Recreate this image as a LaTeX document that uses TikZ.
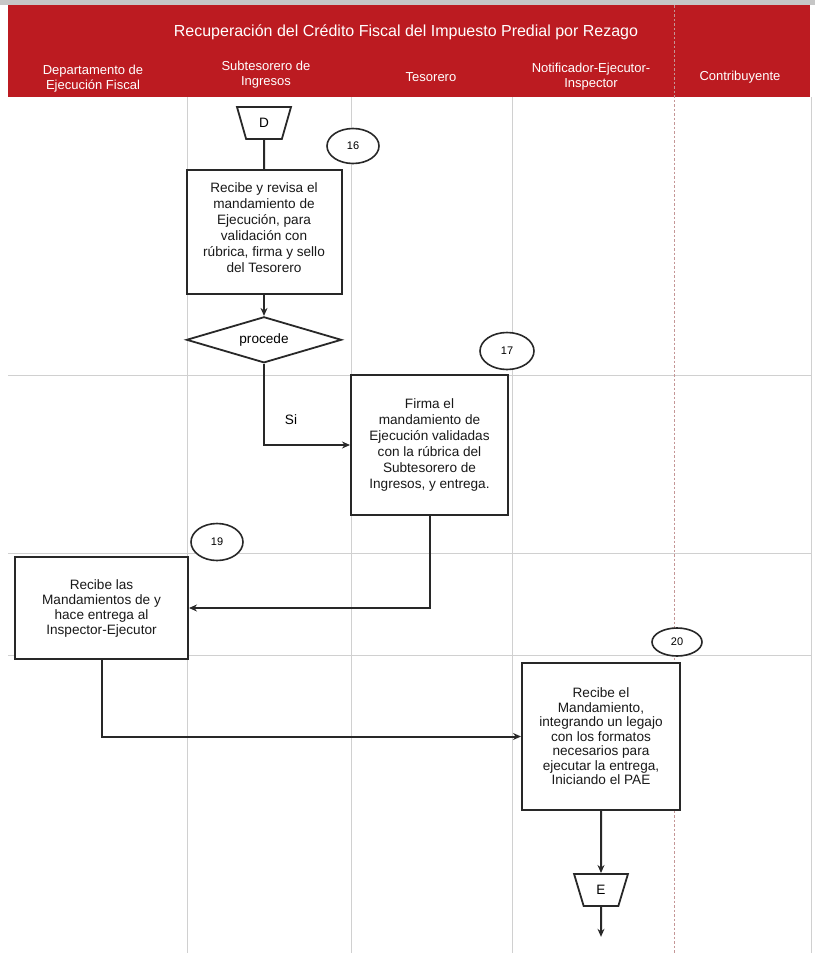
\documentclass[tikz,border=0pt]{standalone}
\usepackage{fontspec}
\setmainfont{Liberation Sans}
\usetikzlibrary{positioning,shapes.geometric,arrows.meta}
\definecolor{encabezado}{RGB}{188,27,33}
\definecolor{rejilla}{RGB}{208,208,208}
\definecolor{divisor}{RGB}{196,150,150}
\definecolor{trazo}{RGB}{40,40,40}
\tikzset{
  proceso/.style={draw=trazo, line width=2pt, fill=white, align=center, inner sep=2pt,
    text=black!90, font=\fontsize{13.6}{16}\selectfont},
  decision/.style={draw=trazo, line width=1.8pt, diamond, aspect=3.4, inner sep=0pt,
    minimum width=155pt, minimum height=46pt, fill=white, font=\fontsize{13.6}{16}\selectfont},
  conector/.style={draw=trazo, line width=1.8pt, trapezium, trapezium stretches=true,
    shape border rotate=180, trapezium left angle=75, trapezium right angle=75,
    minimum width=54pt, minimum height=32pt, inner sep=0pt, fill=white,
    font=\fontsize{13.6}{16}\selectfont},
  paso/.style={draw=trazo, line width=1.6pt, ellipse, inner sep=0pt, fill=white,
    minimum width=52pt, minimum height=35pt, font=\fontsize{11}{13}\selectfont},
  linea/.style={trazo, line width=2pt},
  flujo/.style={linea, -{Stealth[length=8pt,width=7pt]}},
  columna/.style={text=white, align=center, font=\fontsize{13}{15}\selectfont},
}
\begin{document}
\begin{tikzpicture}[x=1pt,y=-1pt]
  \useasboundingbox (0,0) rectangle (815,953);
  % encabezado y carriles
  \fill[gray!45] (0,0) rectangle (815,5);
  \fill[encabezado] (8,5) rectangle (810,97);
  \foreach \cx in {187,351,512,811}
    \draw[rejilla, line width=1pt] (\cx,97) -- (\cx,953);
  \foreach \cy in {375,553,655}
    \draw[rejilla, line width=1pt] (8,\cy) -- (811,\cy);
  \draw[divisor, line width=1pt, dash pattern=on 2.5pt off 2pt] (674,5) -- (674,953);

  \node[columna, font=\fontsize{16}{18}\selectfont] (titulo) at (406,32)
    {Recuperación del Crédito Fiscal del Impuesto Predial por Rezago};
  \node[columna] (depto) at (93,79) {Departamento de\\Ejecución Fiscal};
  \node[columna] (subtes) at (266,75) {Subtesorero de\\Ingresos};
  \node[columna] (tesor) at (431,77) {Tesorero};
  \node[columna] (notif) at (591,77) {Notificador-Ejecutor-\\Inspector};
  \node[columna] (contri) at (740,77) {Contribuyente};

  % flujo
  \node[conector] (d) at (264,123) {D};
  \node[proceso, minimum width=155pt, minimum height=124pt, below=29pt of d] (b16)
    {Recibe y revisa el\\mandamiento de\\Ejecución, para\\validación  con\\rúbrica, firma y sello\\del Tesorero\\[-8pt]};
  \node[decision, below=21pt of b16] (proc) {procede};
  \node[proceso, minimum width=157pt, minimum height=140pt] (b17) at (429.5,445)
    {Firma el\\mandamiento de\\Ejecución validadas\\con la rúbrica del\\Subtesorero de\\Ingresos,  y entrega.};
  \node[proceso, minimum width=173pt, minimum height=102pt,
    font=\fontsize{13.6}{15}\selectfont] (b19) at (101.5,608)
    {Recibe las\\Mandamientos  de y\\hace entrega al\\Inspector-Ejecutor};
  \node[proceso, minimum width=158pt, minimum height=147pt,
    font=\fontsize{13.6}{14.5}\selectfont] (b20) at (601,736.5)
    {Recibe el\\Mandamiento,\\integrando  un legajo\\con los formatos\\necesarios para\\ejecutar la entrega,\\Iniciando el PAE};
  \node[conector, below=62pt of b20] (e) {E};
  \coordinate[below=30pt of e] (fin);

  \node[paso] (p16) at (353,146) {16};
  \node[paso, minimum width=54pt, minimum height=37pt] (p17) at (507,351) {17};
  \node[paso, minimum height=37pt] (p19) at (217,542) {19};
  \node[paso, minimum width=50pt, minimum height=28pt] (p20) at (677,642) {20};

  \node[font=\fontsize{13.6}{16}\selectfont] (si) at (291,420) {Si};

  \draw[linea] (d) -- (b16);
  \draw[flujo] (b16) -- (proc);
  \draw[flujo] (proc.south) |- (b17.west);
  \draw[flujo] (b17.south) |- (b19.east);
  \draw[flujo] (b19.south) |- (b20.west);
  \draw[flujo] (b20) -- (e);
  \draw[flujo] (e) -- (fin);
\end{tikzpicture}
\end{document}
